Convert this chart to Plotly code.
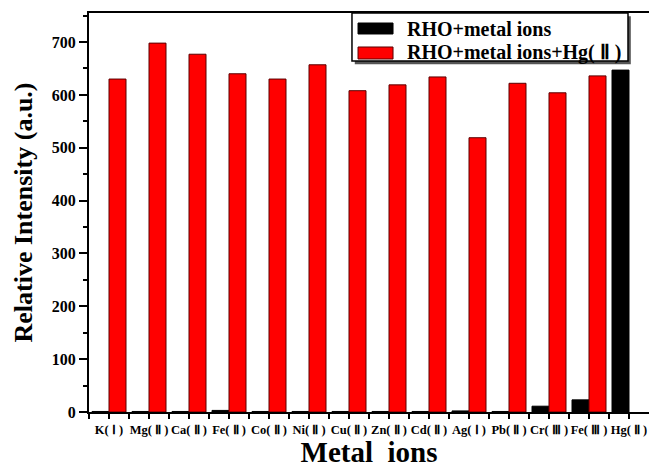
import plotly.graph_objects as go

# Metal ions tested and fluorescence intensities (a.u.)
categories = ["K( Ⅰ )", "Mg( Ⅱ )", "Ca( Ⅱ )", "Fe( Ⅱ )", "Co( Ⅱ )", "Ni( Ⅱ )", "Cu( Ⅱ )",
              "Zn( Ⅱ )", "Cd( Ⅱ )", "Ag( Ⅰ )", "Pb( Ⅱ )", "Cr( Ⅲ )", "Fe( Ⅲ )", "Hg( Ⅱ )"]
rho_metal = [1, 1, 1, 3, 1, 1, 1, 1, 1, 2, 1, 11, 23, 647]
rho_metal_hg = [630, 698, 677, 640, 630, 657, 608, 619, 634, 519, 622, 604, 636, None]

series_names = ["RHO+metal ions", "RHO+metal ions+Hg( Ⅱ )"]
series_colors = ["#000000", "#ff0000"]
edge_colors = ["#000000", "#5a0000"]

y_range = [0, 755]
y_major = [0, 100, 200, 300, 400, 500, 600, 700]
y_minor = [50, 150, 250, 350, 450, 550, 650, 750]

x_pos = list(range(len(categories)))
font_family = "Liberation Serif, Times New Roman, serif"

fig = go.Figure()
for name, vals, col, edge in zip(series_names, [rho_metal, rho_metal_hg],
                                 series_colors, edge_colors):
    fig.add_trace(go.Bar(
        x=x_pos, y=vals, name=name,
        marker=dict(color=col, line=dict(color=edge, width=1)),
        showlegend=False,
    ))

fig.update_layout(
    width=649, height=468,
    margin=dict(l=89, r=0, t=13, b=56),
    paper_bgcolor="white", plot_bgcolor="white",
    barmode="group", bargap=0.15, bargroupgap=0,
    font=dict(family=font_family, color="black"),
)

fig.update_xaxes(
    range=[-0.5, len(categories) - 0.5],
    tickmode="array", tickvals=x_pos, ticktext=categories,
    tickfont=dict(size=12.5, family=font_family, weight="bold"),
    ticks="outside", ticklen=5, tickwidth=1.5, tickcolor="black",
    minor=dict(tickmode="array", tickvals=[i + 0.5 for i in x_pos[:-1]] + [-0.5],
               ticks="outside", ticklen=5, tickwidth=1.5, tickcolor="black"),
    showline=True, linewidth=2, linecolor="black", mirror=True,
    showgrid=False, zeroline=False,
    title=dict(text="Metal  ions", font=dict(size=29, family=font_family, weight="bold"),
               standoff=2),
)

fig.update_yaxes(
    range=y_range,
    tickmode="array", tickvals=y_major,
    tickfont=dict(size=16, family=font_family, weight="bold"),
    ticks="outside", ticklen=8, tickwidth=1.5, tickcolor="black",
    minor=dict(tickmode="array", tickvals=y_minor, ticks="outside",
               ticklen=4, tickwidth=1.5, tickcolor="black"),
    showline=True, linewidth=2, linecolor="black", mirror=False,
    showgrid=False, zeroline=False,
    title=dict(text="Relative Intensity (a.u.)",
               font=dict(size=26, family=font_family, weight="bold"), standoff=12),
)

# Framed legend with shadow and wide colour swatches
lx0, lx1, ly0, ly1 = 0.4696, 0.9625, 0.8797, 1.0
fig.add_shape(type="rect", xref="paper", yref="paper",
              x0=lx0 + 0.005, x1=lx1 + 0.005, y0=ly0 - 0.008, y1=ly1 - 0.008,
              fillcolor="#555555", line=dict(width=0))
fig.add_shape(type="rect", xref="paper", yref="paper",
              x0=lx0, x1=lx1, y0=ly0, y1=ly1,
              fillcolor="white", line=dict(color="black", width=1.5))
swatch_y = [(0.9474, 0.9749), (0.8847, 0.9148)]
for (sy0, sy1), name, col, edge in zip(swatch_y, series_names, series_colors, edge_colors):
    fig.add_shape(type="rect", xref="paper", yref="paper",
                  x0=0.4804, x1=0.5429, y0=sy0, y1=sy1,
                  fillcolor=col, line=dict(color=edge, width=1))
    fig.add_annotation(xref="paper", yref="paper", x=0.5643, y=(sy0 + sy1) / 2,
                       text=name, showarrow=False, xanchor="left", yanchor="middle",
                       font=dict(size=20, family=font_family, weight="bold", color="black"))

fig.write_html("out.html")
